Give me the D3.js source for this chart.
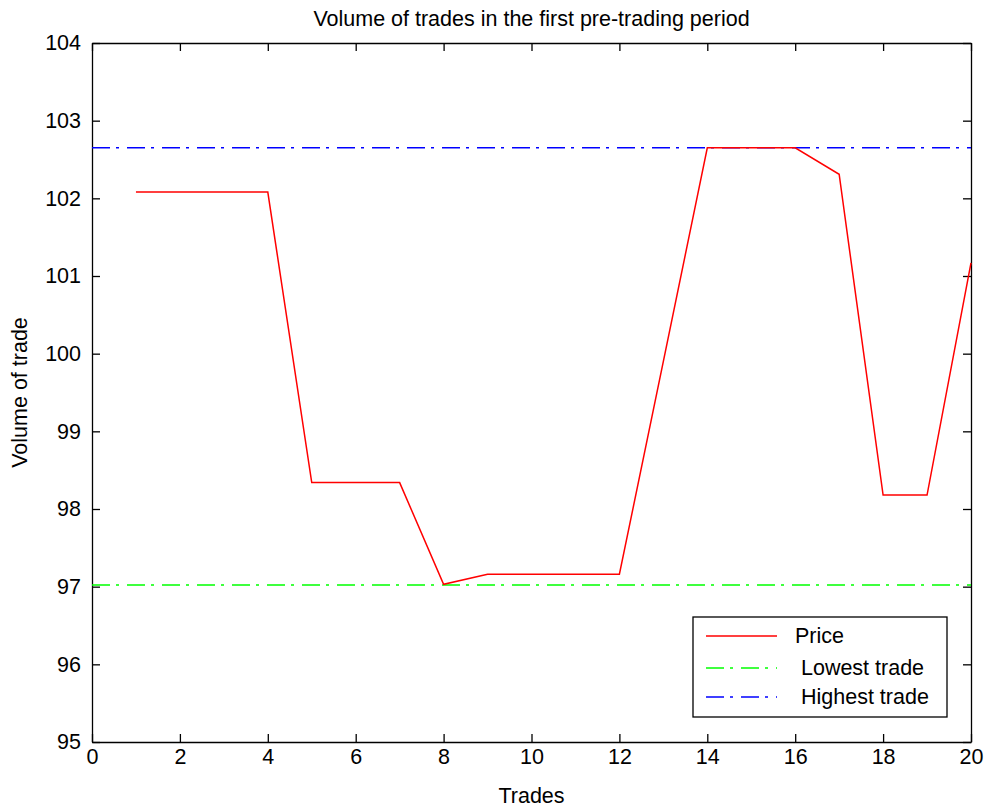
<!DOCTYPE html>
<html>
<head>
<meta charset="utf-8">
<script src="https://cdn.jsdelivr.net/npm/d3@7"></script>
<style>
  body { margin: 0; background: #fff; }
  text { font-family: "Liberation Sans", Arial, sans-serif; fill: #000; }
</style>
</head>
<body>
<div id="canvas"></div>
<script>
// trades 1..20 and price of each trade
const trades = [1, 2, 3, 4, 5, 6, 7, 8, 9, 10, 11, 12, 13, 14, 15, 16, 17, 18, 19, 20];
const prices = [102.08, 102.08, 102.08, 102.08, 98.34, 98.34, 98.34, 97.03, 97.16, 97.16,
                97.16, 97.16, 99.9, 102.65, 102.65, 102.65, 102.31, 98.18, 98.18, 101.17];
const lowestTrade = 97.02;
const highestTrade = 102.65;
const xTicks = [0, 2, 4, 6, 8, 10, 12, 14, 16, 18, 20];
const yTicks = [95, 96, 97, 98, 99, 100, 101, 102, 103, 104];
const legendLabels = ["Price", " Lowest trade", " Highest trade"];

const width = 984;
const height = 807;
const margin = { top: 43, left: 92, bottom: 65, right: 13 };
const iwidth = width - margin.left - margin.right;
const iheight = height - margin.top - margin.bottom;

const svg = d3.select("#canvas").append("svg")
    .attr("width", width)
    .attr("height", height);

const g = svg.append("g").attr("transform", `translate(${margin.left},${margin.top})`);

const x = d3.scaleLinear().domain([0, 20]).range([0, iwidth]);
const y = d3.scaleLinear().domain([95, 104]).range([iheight, 0]);

const fs = "21.5px";

// axes, MATLAB style box with inward ticks
g.append("g")
    .attr("transform", `translate(0,${iheight})`)
    .call(d3.axisBottom(x).tickValues(xTicks).tickSize(-8).tickSizeOuter(0).tickPadding(6))
    .call(a => a.selectAll("text").style("font-size", fs).attr("dy", "0.75em"));
g.append("g")
    .call(d3.axisTop(x).tickValues(xTicks).tickSize(-8).tickSizeOuter(0).tickFormat(""));
g.append("g")
    .call(d3.axisLeft(y).tickValues(yTicks).tickSize(-8).tickSizeOuter(0).tickPadding(11))
    .call(a => a.selectAll("text").style("font-size", fs));
g.append("g")
    .attr("transform", `translate(${iwidth},0)`)
    .call(d3.axisRight(y).tickValues(yTicks).tickSize(-8).tickSizeOuter(0).tickFormat(""));

g.selectAll(".domain, .tick line").attr("stroke", "#000").attr("stroke-width", 1.3);

const dashDot = "18,6,3,8";

// reference lines
g.append("line")
    .attr("x1", x(0)).attr("x2", x(20))
    .attr("y1", y(lowestTrade)).attr("y2", y(lowestTrade))
    .attr("stroke", "#00ff00").attr("stroke-width", 1.5).attr("stroke-dasharray", dashDot);
g.append("line")
    .attr("x1", x(0)).attr("x2", x(20))
    .attr("y1", y(highestTrade)).attr("y2", y(highestTrade))
    .attr("stroke", "#0000ff").attr("stroke-width", 1.5).attr("stroke-dasharray", dashDot);

// price line
const line = d3.line().x((d, i) => x(trades[i])).y(d => y(d));
g.append("path")
    .datum(prices)
    .attr("fill", "none")
    .attr("stroke", "#ff0000")
    .attr("stroke-width", 1.5)
    .attr("d", line);

// title and labels
svg.append("text")
    .attr("x", margin.left + iwidth / 2).attr("y", 26)
    .attr("text-anchor", "middle").style("font-size", fs)
    .text("Volume of trades in the first pre-trading period");
svg.append("text")
    .attr("x", margin.left + iwidth / 2).attr("y", 803)
    .attr("text-anchor", "middle").style("font-size", fs)
    .text("Trades");
svg.append("text")
    .attr("transform", `translate(27,${margin.top + iheight / 2}) rotate(-90)`)
    .attr("text-anchor", "middle").style("font-size", fs)
    .text("Volume of trade");

// legend
const colors = ["#ff0000", "#00ff00", "#0000ff"];
const dashes = [null, dashDot, dashDot];
const legend = svg.append("g").attr("transform", "translate(693,617)");
legend.append("rect")
    .attr("width", 254).attr("height", 100)
    .attr("fill", "#fff").attr("stroke", "#000").attr("stroke-width", 1.3);
const rowY = [19, 51, 80];
legendLabels.forEach((lab, i) => {
    legend.append("line")
        .attr("x1", 13).attr("x2", 84)
        .attr("y1", rowY[i]).attr("y2", rowY[i])
        .attr("stroke", colors[i]).attr("stroke-width", 1.5)
        .attr("stroke-dasharray", dashes[i]);
    legend.append("text")
        .attr("x", 102).attr("y", rowY[i] + 7)
        .style("font-size", fs)
        .style("white-space", "pre")
        .text(lab);
});
</script>
</body>
</html>
